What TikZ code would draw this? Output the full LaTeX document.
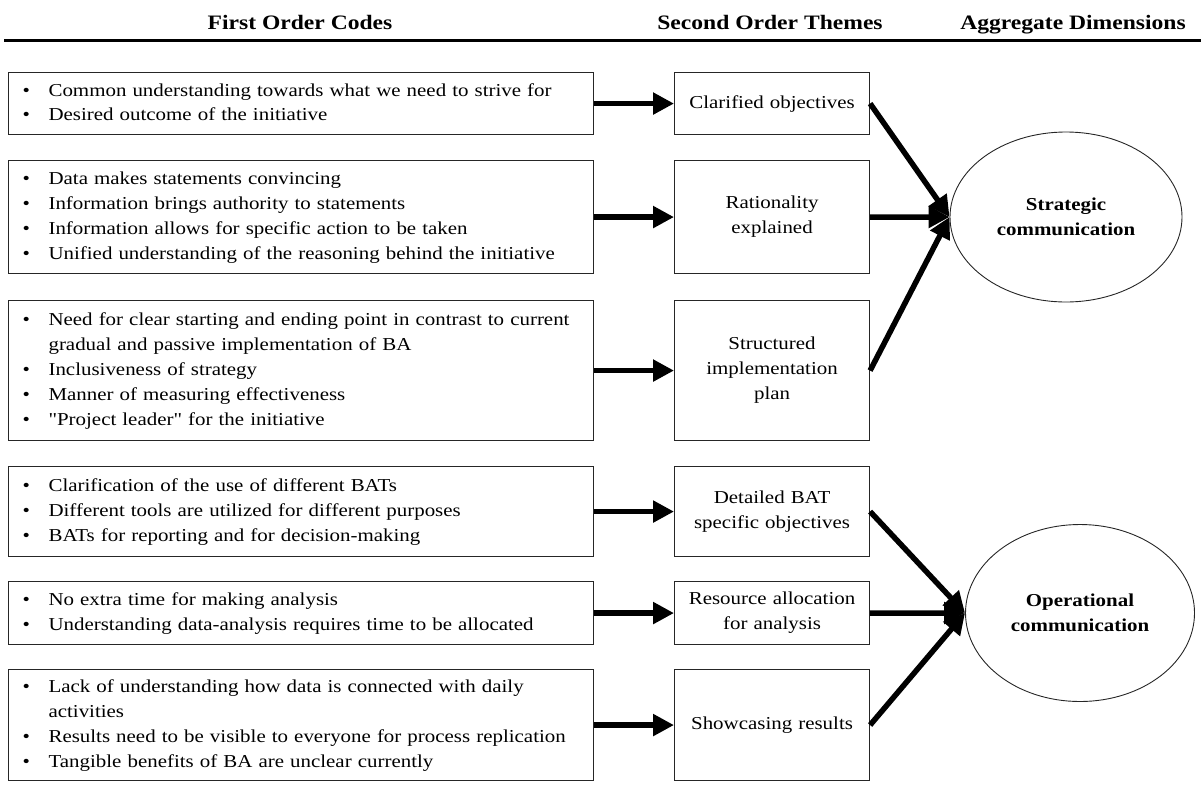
\documentclass[tikz,border=0pt]{standalone}
\usepackage{fontspec}
\setmainfont{Liberation Serif}[FakeStretch=1.15]
\newfontfamily\qfont{Liberation Serif}[FakeStretch=1.15]
\usetikzlibrary{shapes.geometric,arrows.meta}
\newcommand{\bul}{\hspace{2pt}\textbullet}
\newcommand{\sq}{{\qfont\symbol{34}}}
\newenvironment{blist}{\begin{tabular}{@{}p{28pt}@{}l@{}}}{\end{tabular}}
\begin{document}
\begin{tikzpicture}[x=1pt,y=-1pt,
  lbox/.style={draw=black!85, line width=1.1pt, rectangle, minimum width=585pt, text width=561pt, inner xsep=12pt, inner ysep=0pt, align=left, font=\fontsize{18.2}{24.8}\selectfont, anchor=north west},
  mbox/.style={draw=black!85, line width=1.1pt, rectangle, minimum width=195pt, text width=185pt, inner xsep=5pt, inner ysep=0pt, align=center, font=\fontsize{18.2}{25}\selectfont, anchor=north west},
  arr/.style={line width=5.5pt, -{Triangle[length=21pt,width=21pt]}},
  ell/.style={ellipse, draw=black!85, line width=0.9pt, inner sep=0pt, align=center, font=\fontsize{18.2}{25}\selectfont\bfseries},
  hdr/.style={font=\fontsize{20.5}{24}\selectfont\bfseries, anchor=base}
]
\useasboundingbox (0,0) rectangle (1201,785);

% headers
\node[hdr] (h1) at (300,29) {First Order Codes};
\node[hdr] (h2) at (770,29) {Second Order Themes};
\node[hdr] (h3) at (1073,29) {Aggregate Dimensions};
\coordinate (hl) at (4,40);
\coordinate (hr) at (1201,40);
\draw[line width=3pt] (hl) -- (hr);

% row 1
\node[lbox, minimum height=62pt] (l1) at (8,72) {\begin{blist}
\bul & Common understanding towards what we need to strive for\\
\bul & Desired outcome of the initiative
\end{blist}};
\node[mbox, minimum height=62pt] (m1) at (674,72) {Clarified objectives};

% row 2
\node[lbox, minimum height=113pt] (l2) at (8,160) {\begin{blist}
\bul & Data makes statements convincing\\
\bul & Information brings authority to statements\\
\bul & Information allows for specific action to be taken\\
\bul & Unified understanding of the reasoning behind the initiative
\end{blist}};
\node[mbox, minimum height=113pt] (m2) at (674,160) {Rationality\\explained};

% row 3
\node[lbox, minimum height=140pt] (l3) at (8,300) {\begin{blist}
\bul & Need for clear starting and ending point in contrast to current\\
 & gradual and passive implementation of BA\\
\bul & Inclusiveness of strategy\\
\bul & Manner of measuring effectiveness\\
\bul & \sq Project leader\sq{} for the initiative
\end{blist}};
\node[mbox, minimum height=140pt] (m3) at (674,300) {Structured\\implementation\\plan};

% row 4
\node[lbox, minimum height=90pt] (l4) at (8,466) {\begin{blist}
\bul & Clarification of the use of different BATs\\
\bul & Different tools are utilized for different purposes\\
\bul & BATs for reporting and for decision-making
\end{blist}};
\node[mbox, minimum height=90pt] (m4) at (674,466) {Detailed BAT\\specific objectives};

% row 5
\node[lbox, minimum height=63pt] (l5) at (8,581) {\begin{blist}
\bul & No extra time for making analysis\\
\bul & Understanding data-analysis requires time to be allocated
\end{blist}};
\node[mbox, minimum height=63pt] (m5) at (674,581) {Resource allocation\\for analysis};

% row 6
\node[lbox, minimum height=111pt] (l6) at (8,669) {\begin{blist}
\bul & Lack of understanding how data is connected with daily\\
 & activities\\
\bul & Results need to be visible to everyone for process replication\\
\bul & Tangible benefits of BA are unclear currently
\end{blist}};
\node[mbox, minimum height=111pt] (m6) at (674,669) {Showcasing results};

% ellipses
\node[ell, minimum width=232pt, minimum height=170pt] (s) at (1066,217) {Strategic\\communication};
\node[ell, minimum width=229pt, minimum height=177pt] (o) at (1080,613) {Operational\\communication};

% arrows
\foreach \i in {1,...,6} \draw[arr] (l\i.east) -- (m\i.west);
\draw[arr] (m1.east) -- (s.west);
\draw[arr] (m2.east) -- (s.west);
\draw[arr] (m3.east) -- (s.west);
\draw[arr] (m4.east) -- (o.west);
\draw[arr] (m5.east) -- (o.west);
\draw[arr] (m6.east) -- (o.west);
\end{tikzpicture}
\end{document}
